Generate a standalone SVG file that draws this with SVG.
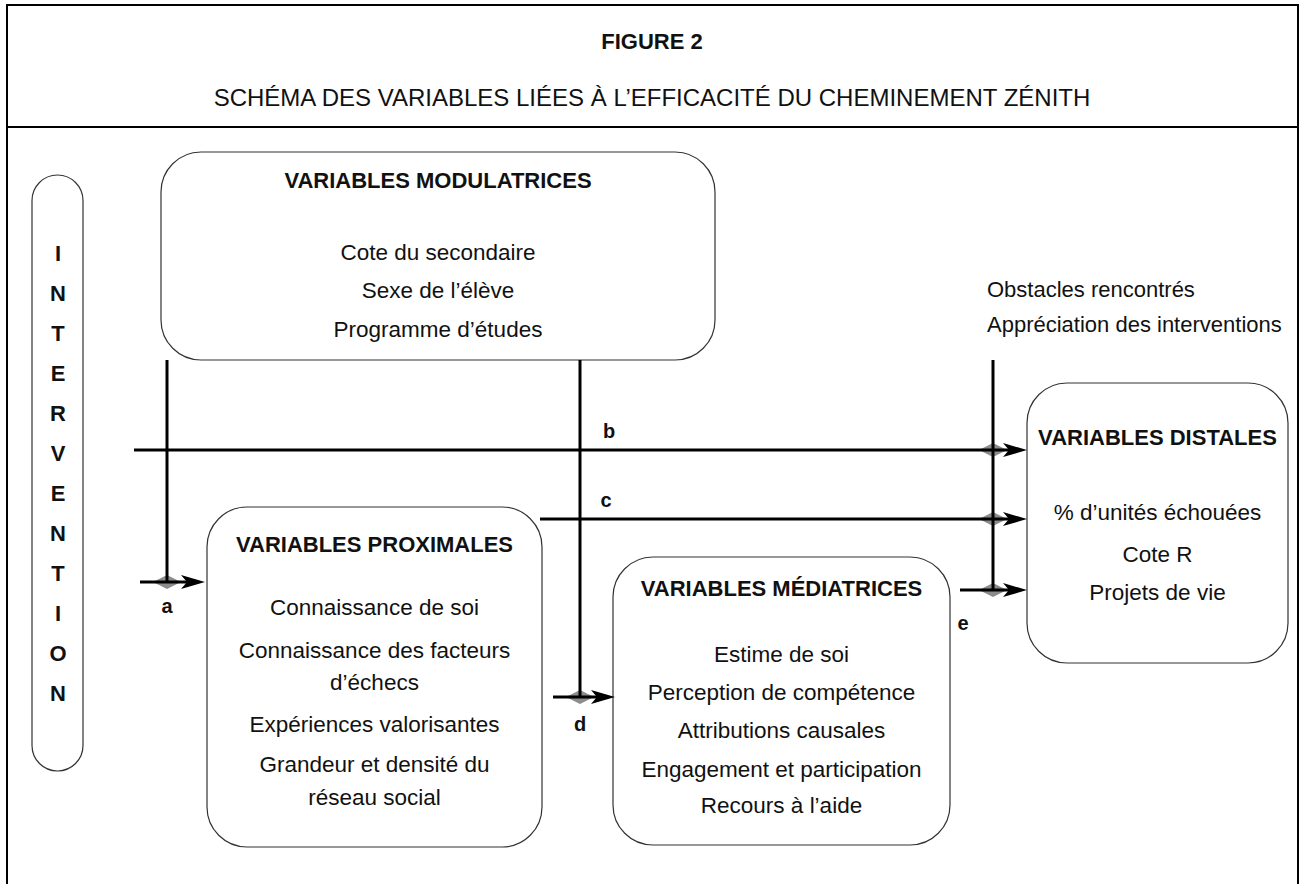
<svg xmlns="http://www.w3.org/2000/svg" width="1304" height="884" viewBox="0 0 1304 884">
<defs>
<style>
text{font-family:"Liberation Sans",Arial,sans-serif;fill:#111;}
.t{font-size:22.5px;text-anchor:middle;}
.h{font-size:22px;font-weight:bold;text-anchor:middle;}
.lbl{font-size:20px;font-weight:bold;text-anchor:middle;}
.l{font-size:22px;font-weight:bold;text-anchor:middle;}
.r{font-size:22px;}
.box{fill:#fff;stroke:#333;stroke-width:1.2;}
.ln{stroke:#000;stroke-width:3;fill:none;}
.dia{fill:#8c8c8c;}
</style>
<marker id="arr" markerUnits="userSpaceOnUse" markerWidth="24" markerHeight="14" viewBox="0 0 24 14" refX="12" refY="7" orient="auto">
<path d="M0,0 L24,7 L0,14 L6,7 Z" fill="#000"/>
</marker>
</defs>
<rect x="0" y="0" width="1304" height="884" fill="#fff"/>
<g id="frame">
<path d="M7,884 V5 H1298 V884" fill="none" stroke="#000" stroke-width="2"/>
<line x1="7" y1="127" x2="1298" y2="127" stroke="#000" stroke-width="2"/>
<text x="652" y="49" class="h">FIGURE 2</text>
<text x="652" y="106" class="t" style="font-size:24px">SCHÉMA DES VARIABLES LIÉES À L’EFFICACITÉ DU CHEMINEMENT ZÉNITH</text>
</g>
<g id="intervention">
<rect x="32" y="175" width="51" height="596" rx="25.5" class="box"/>
<text x="58" y="261" class="l">I</text>
<text x="58" y="301" class="l">N</text>
<text x="58" y="341" class="l">T</text>
<text x="58" y="381" class="l">E</text>
<text x="58" y="421" class="l">R</text>
<text x="58" y="461" class="l">V</text>
<text x="58" y="501" class="l">E</text>
<text x="58" y="541" class="l">N</text>
<text x="58" y="581" class="l">T</text>
<text x="58" y="621" class="l">I</text>
<text x="58" y="661" class="l">O</text>
<text x="58" y="701" class="l">N</text>
</g>
<g id="modulatrices">
<rect x="161" y="152" width="554" height="208" rx="40" class="box"/>
<text x="438" y="188" class="h">VARIABLES MODULATRICES</text>
<text x="438" y="260" class="t">Cote du secondaire</text>
<text x="438" y="298" class="t">Sexe de l’élève</text>
<text x="438" y="337" class="t">Programme d’études</text>
</g>
<g id="moderateurs-distaux">
<text x="987" y="297" class="r">Obstacles rencontrés</text>
<text x="987" y="332" class="r">Appréciation des interventions</text>
</g>
<g id="proximales">
<rect x="207" y="507" width="335" height="340" rx="40" class="box"/>
<text x="374.5" y="552" class="h">VARIABLES PROXIMALES</text>
<text x="374.5" y="615" class="t">Connaissance de soi</text>
<text x="374.5" y="658" class="t">Connaissance des facteurs</text>
<text x="374.5" y="690" class="t">d’échecs</text>
<text x="374.5" y="732" class="t">Expériences valorisantes</text>
<text x="374.5" y="772" class="t">Grandeur et densité du</text>
<text x="374.5" y="805" class="t">réseau social</text>
</g>
<g id="mediatrices">
<rect x="613" y="557" width="337" height="288" rx="40" class="box"/>
<text x="781.5" y="596" class="h">VARIABLES MÉDIATRICES</text>
<text x="781.5" y="662" class="t">Estime de soi</text>
<text x="781.5" y="700" class="t">Perception de compétence</text>
<text x="781.5" y="738" class="t">Attributions causales</text>
<text x="781.5" y="777" class="t">Engagement et participation</text>
<text x="781.5" y="813" class="t">Recours à l’aide</text>
</g>
<g id="distales">
<rect x="1027" y="383" width="261" height="280" rx="40" class="box"/>
<text x="1157.5" y="445" class="h">VARIABLES DISTALES</text>
<text x="1157.5" y="520" class="t">% d’unités échouées</text>
<text x="1157.5" y="562" class="t">Cote R</text>
<text x="1157.5" y="600" class="t">Projets de vie</text>
</g>
<g id="connectors">
<polygon class="dia" points="153,582 167,575 181,582 167,589"/>
<polygon class="dia" points="979,450 993,443 1007,450 993,457"/>
<polygon class="dia" points="979,519 993,512 1007,519 993,526"/>
<polygon class="dia" points="979,590 993,583 1007,590 993,597"/>
<polygon class="dia" points="566,697 580,690 594,697 580,704"/>
<line class="ln" x1="167" y1="360" x2="167" y2="582"/>
<line class="ln" x1="140" y1="582" x2="193" y2="582" marker-end="url(#arr)"/>
<line class="ln" x1="134" y1="450" x2="1015" y2="450" marker-end="url(#arr)"/>
<line class="ln" x1="540" y1="519" x2="1015" y2="519" marker-end="url(#arr)"/>
<line class="ln" x1="960" y1="590" x2="1015" y2="590" marker-end="url(#arr)"/>
<line class="ln" x1="993" y1="360" x2="993" y2="590"/>
<line class="ln" x1="580" y1="360" x2="580" y2="697"/>
<line class="ln" x1="553" y1="697" x2="603" y2="697" marker-end="url(#arr)"/>
<text x="167" y="613" class="lbl">a</text>
<text x="609" y="438" class="lbl">b</text>
<text x="606" y="507" class="lbl">c</text>
<text x="580" y="731" class="lbl">d</text>
<text x="963" y="630" class="lbl">e</text>
</g>
</svg>
